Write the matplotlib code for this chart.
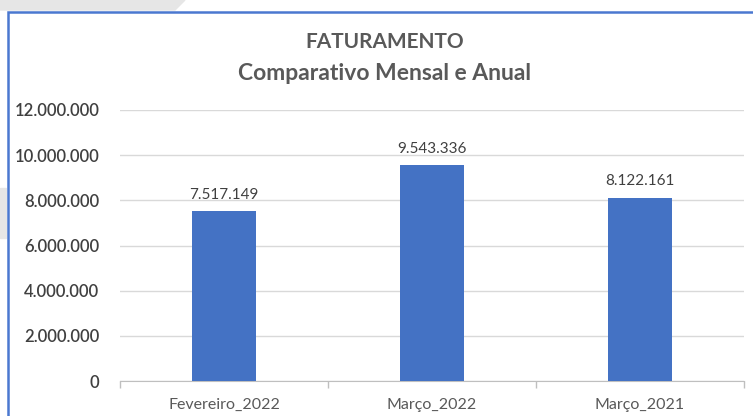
import matplotlib.pyplot as plt
from matplotlib.patches import Rectangle, Polygon

meses = ["Fevereiro_2022", "Março_2022", "Março_2021"]
faturamento = [7517149, 9543336, 8122161]
yticks = [0, 2000000, 4000000, 6000000, 8000000, 10000000, 12000000]


def br(v):
    return f"{v:,.0f}".replace(",", ".")


plt.rcParams["font.family"] = ["Lato", "DejaVu Sans"]
W, H = 753, 416
fig = plt.figure(figsize=(W / 100, H / 100), dpi=100)

# slide background shapes behind the chart frame
fig.patches.append(Polygon([(0, 1), (185 / W, 1), (175 / W, 1 - 10 / H), (0, 1 - 10 / H)],
                           transform=fig.transFigure, color="#e6e6e6", zorder=0))
fig.patches.append(Rectangle((0, 1 - 238 / H), 6 / W, 50 / H,
                             transform=fig.transFigure, color="#e6e6e6", zorder=0))
# chart frame
fig.patches.append(Rectangle((7.5 / W, -0.1), 1.2, 1.1 - 12 / H, transform=fig.transFigure,
                             fill=False, edgecolor="#4a78d0", lw=1.8, zorder=1))

ax = fig.add_axes([120 / W, (H - 381) / H, 624 / W, 271 / H])
x = range(len(meses))
ax.bar(x, faturamento, width=0.31, color="#4472C4", zorder=3)
for i, v in zip(x, faturamento):
    ax.annotate(br(v), (i, v), xytext=(0, 7), textcoords="offset points",
                ha="center", va="bottom", fontsize=11, color="#404040")

ax.set_xlim(-0.5, 2.5)
ax.set_ylim(0, 12000000)
ax.set_yticks(yticks, labels=[br(v) for v in yticks])
ax.set_xticks(list(x), labels=meses)
ax.set_xticks([-0.5, 0.5, 1.5, 2.5], minor=True)
ax.tick_params(axis="y", length=0, pad=15, labelsize=12, labelcolor="#404040")
ax.tick_params(axis="x", which="major", length=0, pad=12, labelsize=11.5, labelcolor="#595959")
ax.tick_params(axis="x", which="minor", length=5, color="#bfbfbf", width=1)
for lab in ax.get_yticklabels():
    lab.set_fontweight("semibold")
ax.grid(axis="y", color="#d9d9d9", lw=1, zorder=0)
for side in ("top", "right", "left"):
    ax.spines[side].set_visible(False)
ax.spines["bottom"].set_color("#bfbfbf")
ax.set_facecolor("none")

fig.text(385 / W, 1 - 42 / H, "FATURAMENTO", ha="center", va="center",
         fontsize=15, fontweight="bold", color="#595959")
fig.text(385 / W, 1 - 73 / H, "Comparativo Mensal e Anual", ha="center", va="center",
         fontsize=16.5, fontweight="bold", color="#595959")

fig.savefig("out.png", dpi=100)
